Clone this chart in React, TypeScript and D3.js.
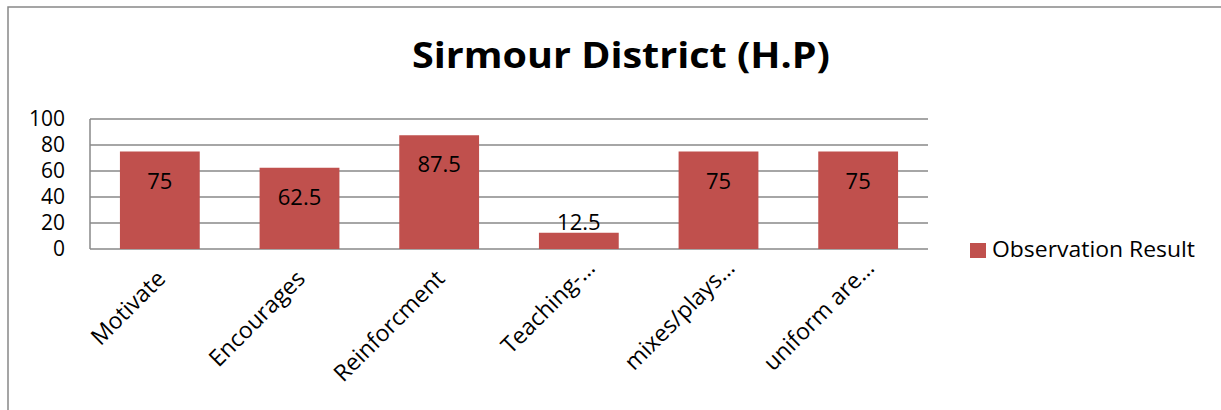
import * as d3 from "d3"

const categories = ["Motivate", "Encourages", "Reinforcment", "Teaching-…", "mixes/plays…", "uniform are…"]
const values = [75, 62.5, 87.5, 12.5, 75, 75]
const yTicks = [0, 20, 40, 60, 80, 100]
const seriesName = "Observation Result"
const title = "Sirmour District (H.P)"

const W = 1221
const H = 410
const FONT = "'Open Sans', Lato, sans-serif"
const BAR = "#C0504D"
const GRID = "#888888"

export default function App() {
  const x = d3.scaleBand<string>().domain(categories).range([90, 928]).padding(0)
  const y = d3.scaleLinear().domain([0, 100]).range([249, 119])
  const barW = x.bandwidth() / 1.75 // excel gap width 75%

  return (
    <svg
      width={W}
      height={H}
      style={{ position: "absolute", left: 0, top: 0, background: "#fff" }}
      fontFamily={FONT}
    >
      {/* outer chart frame, runs off the right and bottom edge */}
      <rect x={8} y={7} width={W + 20} height={H + 20} fill="#fff" stroke={GRID} strokeWidth={1.5} />

      <text x={621} y={68} textAnchor="middle" fontSize={36} fontWeight="bold" fill="#000"
        textLength={418} lengthAdjust="spacingAndGlyphs">
        {title}
      </text>

      {/* gridlines */}
      {yTicks.map((t) => (
        <line key={t} x1={90} x2={928} y1={y(t)} y2={y(t)} stroke={GRID} strokeWidth={1.5} />
      ))}
      <line x1={90} x2={90} y1={y(100)} y2={y(0)} stroke={GRID} strokeWidth={1.5} />

      {yTicks.map((t) => (
        <text key={t} x={65} y={y(t)} dy="0.35em" textAnchor="end" fontSize={21} fill="#000">
          {t}
        </text>
      ))}

      {categories.map((c, i) => {
        const cx = x(c)! + x.bandwidth() / 2
        const top = y(values[i])
        const inside = y(0) - top > 45
        return (
          <g key={c}>
            <rect x={cx - barW / 2} y={top} width={barW} height={y(0) - top} fill={BAR} />
            <text x={cx} y={inside ? top + 37 : top - 3} textAnchor="middle" fontSize={22} fill="#000">
              {values[i]}
            </text>
            <text
              transform={`translate(${cx + 7},${280}) rotate(-45)`}
              dx={c.endsWith("…") ? 15 : 0}
              textAnchor="end"
              fontSize={23}
              fill="#000"
            >
              {c}
            </text>
          </g>
        )
      })}

      {/* legend */}
      <rect x={970} y={243} width={16} height={15} fill={BAR} />
      <text x={992} y={250} dy="0.35em" fontSize={21} fill="#000" textLength={203} lengthAdjust="spacingAndGlyphs">
        {seriesName}
      </text>
    </svg>
  )
}
